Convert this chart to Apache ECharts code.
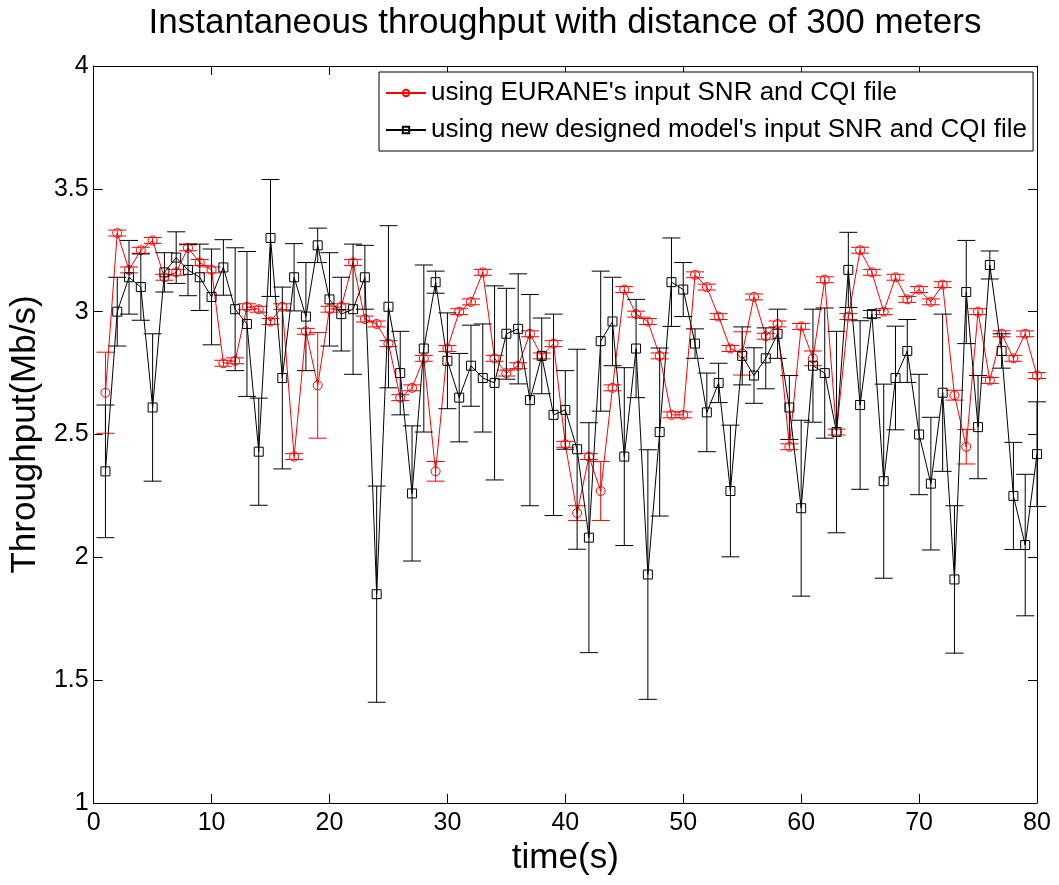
<!DOCTYPE html>
<html>
<head>
<meta charset="utf-8">
<title>Instantaneous throughput</title>
<script src="https://cdn.jsdelivr.net/npm/echarts@6/dist/echarts.min.js"></script>
<style>
    html, body { margin: 0; padding: 0; background: #fff; }
    #chart { width: 1059px; height: 885px; }
</style>
</head>
<body>
<div id="chart"></div>
<script>
// ---- data ----
const timeSec = [
    1, 2, 3, 4, 5, 6, 7, 8, 9, 10,
    11, 12, 13, 14, 15, 16, 17, 18, 19, 20,
    21, 22, 23, 24, 25, 26, 27, 28, 29, 30,
    31, 32, 33, 34, 35, 36, 37, 38, 39, 40,
    41, 42, 43, 44, 45, 46, 47, 48, 49, 50,
    51, 52, 53, 54, 55, 56, 57, 58, 59, 60,
    61, 62, 63, 64, 65, 66, 67, 68, 69, 70,
    71, 72, 73, 74, 75, 76, 77, 78, 79, 80
];

// EURANE input SNR / CQI file
const euraneThroughput = [
    2.67, 3.32, 3.17, 3.25, 3.29, 3.14, 3.16, 3.26, 3.20, 3.17,
    2.79, 2.80, 3.02, 3.01, 2.96, 3.02, 2.41, 2.92, 2.70, 3.01,
    3.02, 3.20, 2.97, 2.95, 2.87, 2.65, 2.69, 2.81, 2.35, 2.85,
    3.00, 3.04, 3.16, 2.81, 2.75, 2.78, 2.91, 2.82, 2.87, 2.46,
    2.18, 2.41, 2.27, 2.69, 3.09, 2.99, 2.96, 2.82, 2.58, 2.58,
    3.15, 3.10, 2.98, 2.85, 2.83, 3.06, 2.90, 2.95, 2.45, 2.94,
    2.81, 3.13, 2.51, 2.98, 3.25, 3.16, 3.00, 3.14, 3.05, 3.09,
    3.04, 3.11, 2.66, 2.45, 3.00, 2.72, 2.91, 2.81, 2.91, 2.74
];
const euraneError = [
    0.165, 0.012, 0.012, 0.012, 0.012, 0.012, 0.012, 0.012, 0.012, 0.012,
    0.012, 0.012, 0.012, 0.012, 0.012, 0.012, 0.012, 0.012, 0.215, 0.012,
    0.012, 0.012, 0.012, 0.012, 0.012, 0.012, 0.012, 0.012, 0.040, 0.012,
    0.012, 0.012, 0.012, 0.012, 0.012, 0.012, 0.012, 0.012, 0.012, 0.012,
    0.030, 0.012, 0.120, 0.012, 0.012, 0.012, 0.012, 0.012, 0.012, 0.012,
    0.012, 0.012, 0.012, 0.012, 0.088, 0.012, 0.012, 0.012, 0.012, 0.012,
    0.030, 0.012, 0.012, 0.012, 0.012, 0.012, 0.012, 0.012, 0.012, 0.012,
    0.012, 0.012, 0.020, 0.070, 0.012, 0.012, 0.012, 0.012, 0.012, 0.012
];

// new designed model's input SNR / CQI file
const modelThroughput = [
    2.35, 3.00, 3.14, 3.10, 2.61, 3.16, 3.22, 3.17, 3.14, 3.06,
    3.18, 3.01, 2.95, 2.43, 3.30, 2.73, 3.14, 2.98, 3.27, 3.05,
    2.99, 3.01, 3.14, 1.85, 3.02, 2.75, 2.26, 2.85, 3.12, 2.80,
    2.65, 2.78, 2.73, 2.71, 2.91, 2.93, 2.64, 2.82, 2.58, 2.60,
    2.44, 2.08, 2.88, 2.96, 2.41, 2.85, 1.93, 2.51, 3.12, 3.09,
    2.87, 2.59, 2.71, 2.27, 2.82, 2.74, 2.81, 2.91, 2.61, 2.20,
    2.78, 2.75, 2.51, 3.17, 2.62, 2.99, 2.31, 2.73, 2.84, 2.50,
    2.30, 2.67, 1.91, 3.08, 2.53, 3.19, 2.84, 2.25, 2.05, 2.42
];
const modelError = [
    0.270, 0.140, 0.150, 0.135, 0.300, 0.080, 0.105, 0.105, 0.135, 0.195,
    0.113, 0.250, 0.295, 0.218, 0.238, 0.370, 0.137, 0.220, 0.070, 0.190,
    0.150, 0.265, 0.130, 0.440, 0.330, 0.170, 0.275, 0.340, 0.045, 0.195,
    0.180, 0.165, 0.220, 0.395, 0.185, 0.224, 0.430, 0.154, 0.410, 0.160,
    0.407, 0.468, 0.285, 0.180, 0.362, 0.200, 0.508, 0.342, 0.180, 0.110,
    0.060, 0.160, 0.080, 0.268, 0.118, 0.113, 0.124, 0.100, 0.130, 0.358,
    0.230, 0.265, 0.410, 0.153, 0.343, 0.015, 0.395, 0.211, 0.128, 0.245,
    0.270, 0.320, 0.300, 0.210, 0.210, 0.057, 0.070, 0.218, 0.288, 0.213
];

const xTicks = { min: 0, max: 80, interval: 10 };
const yTicks = { min: 1, max: 4, interval: 0.5 };

const NAME_EURANE = "using EURANE's input SNR and CQI file";
const NAME_MODEL = "using new designed model's input SNR and CQI file";

// ---- helpers ----
const FONT = "'Liberation Sans', Arial, Helvetica, sans-serif";

function linePoints(vals) {
    return timeSec.map((t, i) => [t, vals[i]]);
}
function errPoints(vals, errs) {
    return timeSec.map((t, i) => [t, vals[i] - errs[i], vals[i] + errs[i]]);
}
function errRender(color) {
    return function (params, api) {
        const t = api.value(0);
        const lo = api.coord([t, api.value(1)]);
        const hi = api.coord([t, api.value(2)]);
        const cap = 9;
        const style = { stroke: color, lineWidth: 1, fill: null };
        return {
            type: 'group',
            children: [
                { type: 'line', shape: { x1: lo[0], y1: lo[1], x2: hi[0], y2: hi[1] }, style },
                { type: 'line', shape: { x1: lo[0] - cap, y1: lo[1], x2: lo[0] + cap, y2: lo[1] }, style },
                { type: 'line', shape: { x1: hi[0] - cap, y1: hi[1], x2: hi[0] + cap, y2: hi[1] }, style }
            ]
        };
    };
}

const chart = echarts.init(document.getElementById('chart'), null, { renderer: 'canvas' });

const axisCommon = {
    axisLine: { show: true, onZero: false, lineStyle: { color: '#000', width: 1 } },
    axisTick: { show: true, inside: true, length: 9, lineStyle: { color: '#000' } },
    splitLine: { show: false }
};

chart.setOption({
    backgroundColor: '#fff',
    animation: false,
    graphic: [{
        type: 'text',
        x: 565,
        y: 6,
        style: {
            text: 'Instantaneous throughput with distance of 300 meters',
            font: '35px ' + FONT,
            fill: '#000',
            textAlign: 'center',
            textVerticalAlign: 'top'
        }
    }],
    legend: {
        data: [NAME_EURANE, NAME_MODEL],
        orient: 'vertical',
        left: 379,
        top: 72,
        padding: [6, 6, 6, 6],
        itemWidth: 40,
        itemHeight: 8,
        itemGap: 7,
        backgroundColor: '#fff',
        borderColor: '#000',
        borderWidth: 1,
        borderRadius: 0,
        textStyle: { fontFamily: FONT, fontSize: 26, color: '#000', lineHeight: 30 }
    },
    grid: { left: 93, top: 66, width: 944, height: 737, containLabel: false },
    xAxis: [
        Object.assign({
            type: 'value', position: 'bottom',
            min: xTicks.min, max: xTicks.max, interval: xTicks.interval,
            name: 'time(s)', nameLocation: 'middle', nameGap: 36,
            nameTextStyle: { fontFamily: FONT, fontSize: 35, color: '#000' },
            axisLabel: { fontFamily: FONT, fontSize: 25, color: '#000', margin: 8 }
        }, axisCommon),
        Object.assign({
            type: 'value', position: 'top',
            min: xTicks.min, max: xTicks.max, interval: xTicks.interval,
            axisLabel: { show: false }
        }, axisCommon)
    ],
    yAxis: [
        Object.assign({
            type: 'value', position: 'left',
            min: yTicks.min, max: yTicks.max, interval: yTicks.interval,
            name: 'Throughput(Mb/s)', nameLocation: 'middle', nameGap: 25,
            nameTextStyle: { fontFamily: FONT, fontSize: 35, color: '#000' },
            axisLabel: { fontFamily: FONT, fontSize: 25, color: '#000', margin: 5 }
        }, axisCommon),
        Object.assign({
            type: 'value', position: 'right',
            min: yTicks.min, max: yTicks.max, interval: yTicks.interval,
            axisLabel: { show: false }
        }, axisCommon)
    ],
    series: [
        {
            name: 'eurane-err',
            type: 'custom',
            xAxisIndex: 0, yAxisIndex: 0,
            renderItem: errRender('#ff0000'),
            encode: { x: 0, y: [1, 2] },
            data: errPoints(euraneThroughput, euraneError),
            z: 1
        },
        {
            name: NAME_EURANE,
            type: 'line',
            xAxisIndex: 0, yAxisIndex: 0,
            data: linePoints(euraneThroughput),
            symbol: 'circle',
            symbolSize: 9,
            lineStyle: { color: '#ff0000', width: 1 },
            itemStyle: { color: 'rgba(255,255,255,0)', borderColor: '#ff0000', borderWidth: 1 },
            z: 2
        },
        {
            name: 'model-err',
            type: 'custom',
            xAxisIndex: 0, yAxisIndex: 0,
            renderItem: errRender('#000000'),
            encode: { x: 0, y: [1, 2] },
            data: errPoints(modelThroughput, modelError),
            z: 3
        },
        {
            name: NAME_MODEL,
            type: 'line',
            xAxisIndex: 0, yAxisIndex: 0,
            data: linePoints(modelThroughput),
            symbol: 'rect',
            symbolSize: 9,
            lineStyle: { color: '#000000', width: 1 },
            itemStyle: { color: 'rgba(255,255,255,0)', borderColor: '#000000', borderWidth: 1 },
            z: 4
        }
    ]
});
</script>
</body>
</html>
